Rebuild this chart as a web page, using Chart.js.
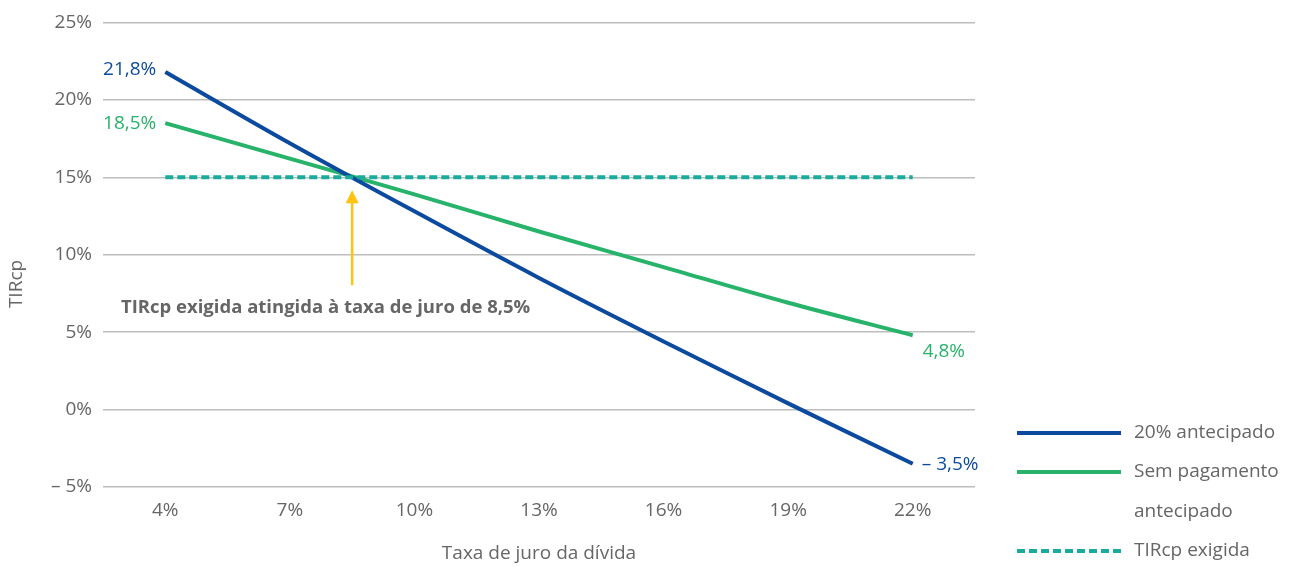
<!DOCTYPE html>
<html>
<head>
<meta charset="utf-8">
<script src="https://cdn.jsdelivr.net/npm/chart.js@4/dist/chart.umd.min.js"></script>
<style>
html,body{margin:0;padding:0;background:#fff;}
#wrap{width:1297px;height:567px;position:relative;}
</style>
</head>
<body>
<div id="wrap"><canvas id="c" width="1297" height="567"></canvas></div>
<script>
// ---- data ----
const rates = [4, 7, 10, 13, 16, 19, 22];               // Taxa de juro da dívida (%)
const antecipado20 = [21.8, 17.2, 12.8, 8.5, 4.4, 0.4, -3.5];
const semPagamento = [18.5, 16.2, 13.9, 11.5, 9.2, 6.9, 4.8];
const tirExigida = [15, 15, 15, 15, 15, 15, 15];
const yTicks = [-5, 0, 5, 10, 15, 20, 25];
const seriesNames = ['20% antecipado', 'Sem pagamento antecipado', 'TIRcp exigida'];
const crossRate = 8.5;
const annotationText = 'TIRcp exigida atingida à taxa de juro de 8,5%';
const xTitle = 'Taxa de juro da dívida';
const yTitle = 'TIRcp';

const BLUE = '#0b4a9e', GREEN = '#27b36a', TEAL = '#19ab9c', YELLOW = '#ffc20e', GRAY = '#666666';
const FONT = '"Open Sans"';
const FS = 19;

function pts(vals){ return rates.map((r,i)=>({x:r, y:vals[i]})); }
function fmt(v){ const s = Math.abs(v).toFixed(1).replace('.', ','); return (v<0?'– ':'') + s + '%'; }

const extras = {
  id: 'extras',
  afterDatasetsDraw(chart){
    const ctx = chart.ctx, xs = chart.scales.x, ys = chart.scales.y;
    ctx.save();
    ctx.font = FS + 'px ' + FONT;
    ctx.textBaseline = 'middle';
    const b = chart.getDatasetMeta(0).data, g = chart.getDatasetMeta(1).data;
    ctx.fillStyle = BLUE; ctx.textAlign = 'right';
    ctx.fillText(fmt(antecipado20[0]), b[0].x - 9, b[0].y - 2);
    ctx.fillStyle = GREEN;
    ctx.fillText(fmt(semPagamento[0]), g[0].x - 9, g[0].y + 1);
    ctx.textAlign = 'left';
    const gl = g[g.length-1], bl = b[b.length-1];
    ctx.fillText(fmt(semPagamento[semPagamento.length-1]), gl.x + 10, gl.y + 16);
    ctx.fillStyle = BLUE;
    ctx.fillText(fmt(antecipado20[antecipado20.length-1]), bl.x + 9, bl.y + 1);

    // arrow
    const ax = xs.getPixelForValue(crossRate);
    const tipY = ys.getPixelForValue(15) + 13;
    ctx.strokeStyle = YELLOW; ctx.fillStyle = YELLOW; ctx.lineWidth = 2.5;
    ctx.beginPath(); ctx.moveTo(ax, tipY + 10); ctx.lineTo(ax, tipY + 95); ctx.stroke();
    ctx.beginPath(); ctx.moveTo(ax, tipY); ctx.lineTo(ax - 6.5, tipY + 13); ctx.lineTo(ax + 6.5, tipY + 13); ctx.closePath(); ctx.fill();

    // annotation text
    ctx.fillStyle = GRAY; ctx.font = 'bold 18.5px ' + FONT; ctx.textAlign = 'left';
    ctx.fillText(annotationText, 121, tipY + 117);

    // y title
    ctx.save();
    ctx.translate(17, 284); ctx.rotate(-Math.PI/2);
    ctx.font = FS + 'px ' + FONT; ctx.textAlign = 'center'; ctx.fillStyle = GRAY;
    ctx.fillText(yTitle, 0, 0);
    ctx.restore();

    // legend
    const rows = [[0, 433], [1, 472], [2, 551]];
    rows.forEach(([i, y]) => {
      const ds = chart.data.datasets[i];
      ctx.save();
      ctx.strokeStyle = ds.borderColor; ctx.lineWidth = 4;
      ctx.setLineDash(ds.borderDash || []);
      ctx.beginPath(); ctx.moveTo(1017, y); ctx.lineTo(1121, y); ctx.stroke();
      ctx.restore();
    });
    ctx.font = FS + 'px ' + FONT; ctx.textAlign = 'left'; ctx.fillStyle = GRAY;
    ctx.fillText(seriesNames[0], 1134, 433);
    ctx.fillText('Sem pagamento', 1134, 472);
    ctx.fillText('antecipado', 1134, 512);
    ctx.fillText(seriesNames[2], 1134, 551);
    ctx.restore();
  }
};

new Chart(document.getElementById('c'), {
  type: 'line',
  data: {
    datasets: [
      { label: seriesNames[0], data: pts(antecipado20), borderColor: BLUE, borderWidth: 4, pointRadius: 0, tension: 0.3, order: 2 },
      { label: seriesNames[1], data: pts(semPagamento), borderColor: GREEN, borderWidth: 4, pointRadius: 0, tension: 0.3, order: 3 },
      { label: seriesNames[2], data: pts(tirExigida), borderColor: TEAL, borderWidth: 4, borderDash: [8, 4], pointRadius: 0, order: 1 }
    ]
  },
  options: {
    responsive: false,
    animation: false,
    layout: { padding: { top: 12, right: 322, bottom: 0, left: 0 } },
    plugins: { legend: { display: false }, tooltip: { enabled: false } },
    scales: {
      x: {
        type: 'linear', min: 2.5, max: 23.5,
        afterBuildTicks(s){ s.ticks = rates.map(v => ({ value: v })); },
        afterFit(s){ s.height = 80; },
        grid: { display: false, drawTicks: false },
        border: { display: false },
        ticks: { color: GRAY, font: { family: FONT, size: FS }, padding: 12, callback: v => v + '%' , maxRotation: 0},
        title: { display: true, text: xTitle, color: GRAY, font: { family: FONT, size: FS }, padding: { top: 10, bottom: 2 } }
      },
      y: {
        min: -5, max: 25,
        afterBuildTicks(s){ s.ticks = yTicks.map(v => ({ value: v })); },
        afterFit(s){ s.width = 103; },
        grid: { color: '#bdbdbd', lineWidth: 1.5, drawTicks: false },
        border: { display: false },
        ticks: { color: GRAY, font: { family: FONT, size: FS }, padding: 11,
          callback: v => v < 0 ? '– ' + Math.abs(v) + '%' : v + '%' }
      }
    }
  },
  plugins: [extras]
});
</script>
</body>
</html>
